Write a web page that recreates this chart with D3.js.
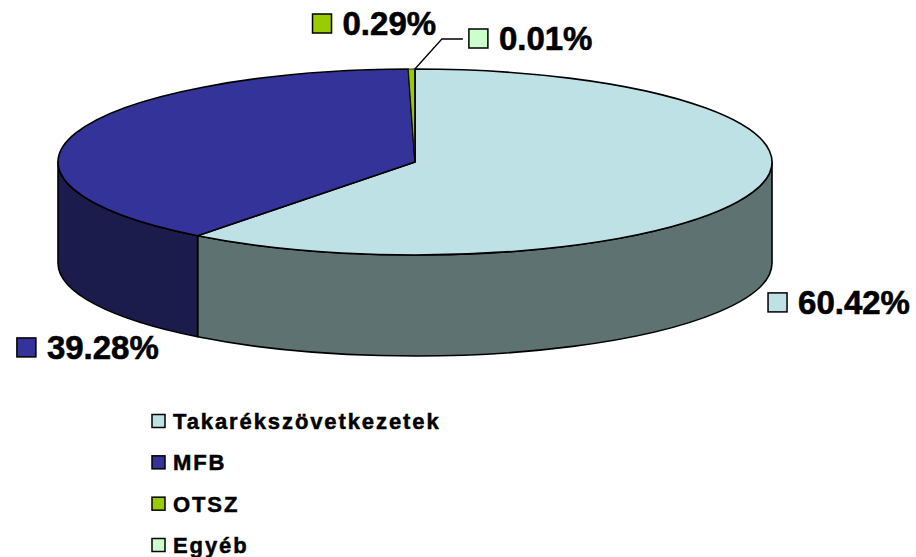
<!DOCTYPE html>
<html>
<head>
<meta charset="utf-8">
<script src="https://cdn.jsdelivr.net/npm/d3@7"></script>
<style>
  body { margin: 0; background: #fff; }
  text { font-family: Arial, "Liberation Sans", sans-serif; font-weight: bold; fill: #000; }
</style>
</head>
<body>
<div id="wrapper"></div>
<script>
// 1. Data
const categories = ["Takarékszövetkezetek", "MFB", "OTSZ", "Egyéb"]
const values = [60.42, 39.28, 0.29, 0.01]
const labels = ["60.42%", "39.28%", "0.29%", "0.01%"]
const topColors = ["#bde1e4", "#333399", "#99cc00", "#ccffcc"]
const sideColors = ["#5e7272", "#1c1c4c", "#4d6600", "#667f66"]

function drawPie() {

  // 2. Dimensions
  let dimensions = {
    width: 916,
    height: 557,
    cx: 415,
    cy: 162,
    rx: 357,
    ry: 93,
    depth: 101,
  }
  const { cx, cy, rx, ry, depth } = dimensions

  // 3. Canvas
  const svg = d3.select("#wrapper")
    .append("svg")
      .attr("width", dimensions.width)
      .attr("height", dimensions.height)

  // 4. Layout
  const pie = d3.pie().sort(null).value(d => d.value)
  const data = pie(categories.map((c, i) => ({ name: c, value: values[i], i })))

  // angle is clockwise from 12 o'clock, like d3.pie
  const px = a => cx + rx * Math.sin(a)
  const py = a => cy - ry * Math.cos(a)

  const topPath = d => {
    const large = d.endAngle - d.startAngle > Math.PI ? 1 : 0
    return `M${cx},${cy}L${px(d.startAngle)},${py(d.startAngle)}`
      + `A${rx},${ry} 0 ${large} 1 ${px(d.endAngle)},${py(d.endAngle)}Z`
  }

  const sidePath = d => {
    const s0 = Math.max(d.startAngle, Math.PI / 2)
    const s1 = Math.min(d.endAngle, Math.PI * 1.5)
    if (s0 >= s1) return null
    return `M${px(s0)},${py(s0)}`
      + `A${rx},${ry} 0 0 1 ${px(s1)},${py(s1)}`
      + `L${px(s1)},${py(s1) + depth}`
      + `A${rx},${ry} 0 0 0 ${px(s0)},${py(s0) + depth}Z`
  }

  // 5. Draw slices: sides first, then the top faces
  svg.append("g")
    .selectAll("path")
    .data(data.filter(d => sidePath(d)))
    .join("path")
      .attr("d", sidePath)
      .attr("fill", d => sideColors[d.index])
      .attr("stroke", "#000")
      .attr("stroke-width", 1.6)
      .attr("stroke-linejoin", "round")

  svg.append("g")
    .selectAll("path")
    .data(data)
    .join("path")
      .attr("d", topPath)
      .attr("fill", d => topColors[d.index])
      .attr("stroke", "#000")
      .attr("stroke-width", d => d.index > 1 ? 0.8 : 1.6)
      .attr("stroke-linejoin", "round")

  // 6. Data labels (legend key + percentage)
  const mid = d => (d.startAngle + d.endAngle) / 2
  // offsets from the outer rim point of each slice
  const labelOffsets = [
    { dx: 15, dy: 0, base: "bottom" },
    { dx: -59, dy: 104, base: "bottom" },
    { dx: -99, dy: -55, base: "top" },
    { dx: 54, dy: -40, base: "top" },
  ]

  const labelGroup = svg.append("g")
  data.forEach(d => {
    const o = labelOffsets[d.index]
    const a = mid(d)
    const ax = px(a)
    const ay = py(a) + (o.base === "bottom" ? depth : 0)
    const x = ax + o.dx
    const y = ay + o.dy
    labelGroup.append("rect")
      .attr("x", x)
      .attr("y", y)
      .attr("width", 19)
      .attr("height", 19)
      .attr("fill", topColors[d.index])
      .attr("stroke", "#000")
      .attr("stroke-width", 1.5)
    labelGroup.append("text")
      .attr("x", x + 30)
      .attr("y", y + 21)
      .style("font-size", "33px")
      .style("stroke", "#000")
      .style("stroke-width", 0.6)
      .text(labels[d.index])

    // leader line for the thinnest slice
    if (d.index === 3) {
      labelGroup.append("path")
        .attr("d", `M${ax},${ay}L${x - 27},${y + 10}L${x - 6},${y + 10}`)
        .attr("fill", "none")
        .attr("stroke", "#000")
        .attr("stroke-width", 1.3)
    }
  })

  // 7. Legend
  const legendY = d3.scalePoint()
    .domain(categories)
    .range([421, 545])

  const legend = svg.append("g")
    .selectAll("g")
    .data(categories)
    .join("g")
      .attr("transform", d => `translate(152, ${legendY(d)})`)

  legend.append("rect")
    .attr("x", 0)
    .attr("y", -6.5)
    .attr("width", 13)
    .attr("height", 13)
    .attr("fill", (d, i) => topColors[i])
    .attr("stroke", "#000")
    .attr("stroke-width", 1.5)

  legend.append("text")
    .attr("x", 21)
    .attr("y", 8)
    .style("font-size", "22px")
    .style("letter-spacing", "1.9px")
    .style("stroke", "#000")
    .style("stroke-width", 0.5)
    .text(d => d)
}
drawPie()
</script>
</body>
</html>
